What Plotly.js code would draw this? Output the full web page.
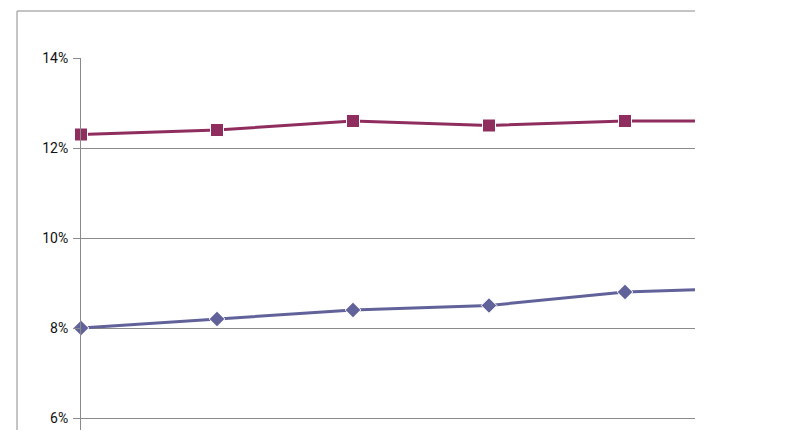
<!DOCTYPE html>
<html>
<head>
<meta charset="utf-8">
<script src="https://cdn.plot.ly/plotly-3.0.1.min.js"></script>
<style>html,body{margin:0;padding:0;background:#fff;}#chart{width:785px;height:445px;}</style>
</head>
<body>
<div id="chart"></div>
<script>
// Category positions (sixth point lies beyond the visible plot edge)
var categories = [0, 1, 2, 3, 4, 5];
// Series values in percent
var seriesUpper = [12.3, 12.4, 12.6, 12.5, 12.6, 12.6];
var seriesLower = [8.0, 8.2, 8.4, 8.5, 8.8, 8.9];
var yTicks = [6, 8, 10, 12, 14];
var yTickLabels = ['6%', '8%', '10%', '12%', '14%'];

// last point is off-plot: hide its marker
function sizes(s) { return categories.map(function (c, i) { return i < categories.length - 1 ? s : 0; }); }

var traces = [
  {
    x: categories, y: seriesUpper, type: 'scatter', mode: 'lines+markers',
    line: {color: '#8F2D5F', width: 3},
    marker: {symbol: 'square', size: sizes(13), color: '#8F2D5F', opacity: 1},
    cliponaxis: false, hoverinfo: 'skip'
  },
  {
    x: categories, y: seriesLower, type: 'scatter', mode: 'lines+markers',
    line: {color: '#62629A', width: 3},
    marker: {symbol: 'diamond', size: sizes(12), color: '#62629A', opacity: 1},
    cliponaxis: false, hoverinfo: 'skip'
  }
];

var layout = {
  width: 785, height: 445,
  margin: {l: 81, r: 90, t: 58, b: 15, pad: 0},
  paper_bgcolor: '#ffffff', plot_bgcolor: '#ffffff',
  showlegend: false,
  font: {family: 'Roboto, Arial, sans-serif', size: 14, color: '#000'},
  xaxis: {
    range: [0, 614 / 136], showgrid: false, zeroline: false,
    showticklabels: false, showline: false, ticks: ''
  },
  yaxis: {
    range: [14 - 372 / 45, 14],
    tickvals: yTicks, ticktext: yTickLabels,
    showgrid: true, gridcolor: '#8a8a8a', gridwidth: 1,
    zeroline: false, showline: true, linecolor: '#8a8a8a', linewidth: 1,
    ticks: 'outside', ticklen: 7, tickcolor: '#8a8a8a',
    ticklabelstandoff: 2,
    tickfont: {family: 'Roboto, Arial, sans-serif', size: 14, color: '#111'}
  },
  shapes: [
    {type: 'line', xref: 'paper', yref: 'paper', x0: -64 / 614, x1: 1, y0: 419 / 372, y1: 419 / 372,
     line: {color: '#8a8a8a', width: 1}},
    {type: 'line', xref: 'paper', yref: 'paper', x0: -64 / 614, x1: -64 / 614, y0: 0, y1: 419 / 372,
     line: {color: '#8a8a8a', width: 1}}
  ]
};

Plotly.newPlot('chart', traces, layout, {displayModeBar: false, staticPlot: true});
</script>
</body>
</html>
